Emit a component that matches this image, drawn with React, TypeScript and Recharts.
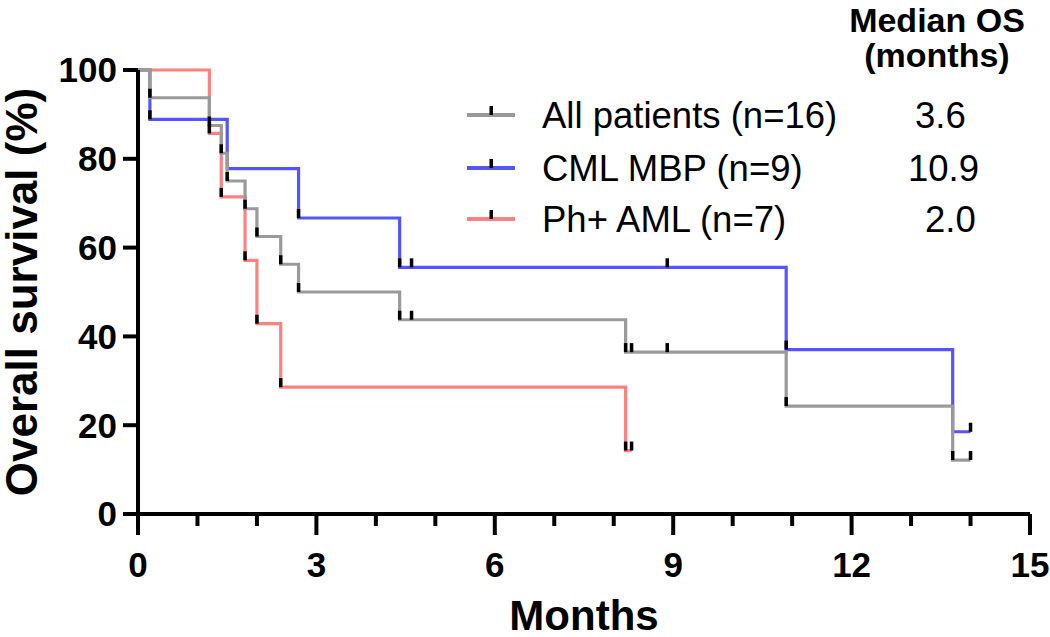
import React from 'react';
import { LineChart, Line, XAxis, YAxis } from 'recharts';

const FONT = '"Liberation Sans", Arial, Helvetica, sans-serif';

// Kaplan-Meier steps: time (months), survival (%), 1 = black tick drawn
const allTimes = [0, 0.2, 1.2, 1.4, 1.5, 1.8, 2.0, 2.4, 2.7, 4.4, 4.6, 8.2, 8.3, 8.9, 10.9, 13.7, 14.0];
const allSurv = [100, 93.75, 87.5, 81.25, 75, 68.75, 62.5, 56.25, 50, 43.75, 43.75, 36.46, 36.46, 36.46, 24.31, 12.15, 12.15];
const allMarks = [0, 1, 1, 1, 1, 1, 1, 1, 1, 1, 1, 1, 1, 1, 1, 1, 1];

const cmlTimes = [0, 0.2, 1.5, 2.7, 4.4, 4.6, 8.9, 10.9, 13.7, 14.0];
const cmlSurv = [100, 88.89, 77.78, 66.67, 55.56, 55.56, 55.56, 37.04, 18.52, 18.52];
const cmlMarks = [0, 1, 0, 1, 1, 1, 1, 1, 0, 1];

const amlTimes = [0, 1.2, 1.4, 1.8, 2.0, 2.4, 8.2, 8.3];
const amlSurv = [100, 85.71, 71.43, 57.14, 42.86, 28.57, 14.29, 14.29];
const amlMarks = [0, 1, 1, 1, 1, 1, 1, 1];

const groupNames = ['All patients (n=16)', 'CML MBP (n=9)', 'Ph+ AML (n=7)'];
const groupColors = ['#9a9a9a', '#5555ff', '#ff8080'];
const medianOS = ['3.6', '10.9', '2.0'];

const xTicks = [0, 1, 2, 3, 4, 5, 6, 7, 8, 9, 10, 11, 12, 13, 14, 15];
const yTicks = [0, 20, 40, 60, 80, 100];

const toRows = (t: number[], s: number[], m: number[]) =>
  t.map((v, i) => ({ t: v, s: s[i], mark: m[i] === 1 }));

const allData = toRows(allTimes, allSurv, allMarks);
const cmlData = toRows(cmlTimes, cmlSurv, cmlMarks);
const amlData = toRows(amlTimes, amlSurv, amlMarks);

const renderTick = (props: any) => {
  const { cx, cy, payload, index } = props;
  if (!payload || !payload.mark || cx == null) return <g key={`n-${index}`} />;
  return <rect key={`c-${index}`} x={cx - 1.75} y={cy - 9} width={3.5} height={9} fill="#000" />;
};

const XTick = ({ x, y, payload }: any) => {
  const v = payload.value;
  const major = v % 3 === 0;
  return (
    <g>
      <line x1={x} x2={x} y1={y} y2={y + (major ? 21 : 12)} stroke="#000" strokeWidth={4} />
      {major && (
        <text x={x} y={y + 63} textAnchor="middle" fontFamily={FONT} fontWeight="bold" fontSize={35} fill="#000">
          {v}
        </text>
      )}
    </g>
  );
};

const rowY = [115, 168, 219];
const medianX = [915, 908, 925];

export default function App() {
  return (
    <div style={{ position: 'absolute', left: 0, top: 0, width: 1050, height: 637 }}>
      <LineChart width={1050} height={637} margin={{ top: 70, right: 20, left: 0, bottom: 0 }}>
        <XAxis
          dataKey="t"
          type="number"
          domain={[0, 15]}
          ticks={xTicks}
          interval={0}
          height={123}
          tickSize={0}
          tickMargin={0}
          tickLine={false}
          tick={<XTick />}
          axisLine={{ stroke: '#000', strokeWidth: 4 }}
          allowDuplicatedCategory={false}
        />
        <YAxis
          type="number"
          domain={[0, 100]}
          ticks={yTicks}
          width={138}
          tickSize={15}
          tickMargin={6}
          tickLine={{ stroke: '#000', strokeWidth: 4 }}
          axisLine={{ stroke: '#000', strokeWidth: 4 }}
          tick={{ fill: '#000', fontSize: 35, fontWeight: 'bold', fontFamily: FONT }}
        />
        <Line
          data={amlData}
          dataKey="s"
          name={groupNames[2]}
          type="stepAfter"
          stroke={groupColors[2]}
          strokeWidth={3.2}
          dot={renderTick}
          activeDot={false}
          isAnimationActive={false}
        />
        <Line
          data={cmlData}
          dataKey="s"
          name={groupNames[1]}
          type="stepAfter"
          stroke={groupColors[1]}
          strokeWidth={3.2}
          dot={renderTick}
          activeDot={false}
          isAnimationActive={false}
        />
        <Line
          data={allData}
          dataKey="s"
          name={groupNames[0]}
          type="stepAfter"
          stroke={groupColors[0]}
          strokeWidth={3.2}
          dot={renderTick}
          activeDot={false}
          isAnimationActive={false}
        />
      </LineChart>
      <svg
        width={1050}
        height={637}
        style={{ position: 'absolute', left: 0, top: 0, pointerEvents: 'none' }}
        fontFamily={FONT}
      >
        <text x={937} y={32} textAnchor="middle" fontWeight="bold" fontSize={34} fill="#000">Median OS</text>
        <text x={937} y={67} textAnchor="middle" fontWeight="bold" fontSize={34} fill="#000">(months)</text>
        {groupNames.map((name, i) => (
          <g key={name}>
            <line x1={467} x2={515} y1={rowY[i]} y2={rowY[i]} stroke={groupColors[i]} strokeWidth={4} />
            <rect x={489.5} y={rowY[i] - 9} width={3.5} height={9} fill="#000" />
            <text x={542} y={rowY[i] + 13} fontSize={36.5} fill="#000">{name}</text>
            <text x={medianX[i]} y={rowY[i] + 13} fontSize={36.5} fill="#000">{medianOS[i]}</text>
          </g>
        ))}
        <text x={584} y={630} textAnchor="middle" fontWeight="bold" fontSize={42} fill="#000">Months</text>
        <text
          transform="translate(37, 292) rotate(-90)"
          textAnchor="middle"
          fontWeight="bold"
          fontSize={44}
          fill="#000"
        >
          Overall survival (%)
        </text>
      </svg>
    </div>
  );
}
